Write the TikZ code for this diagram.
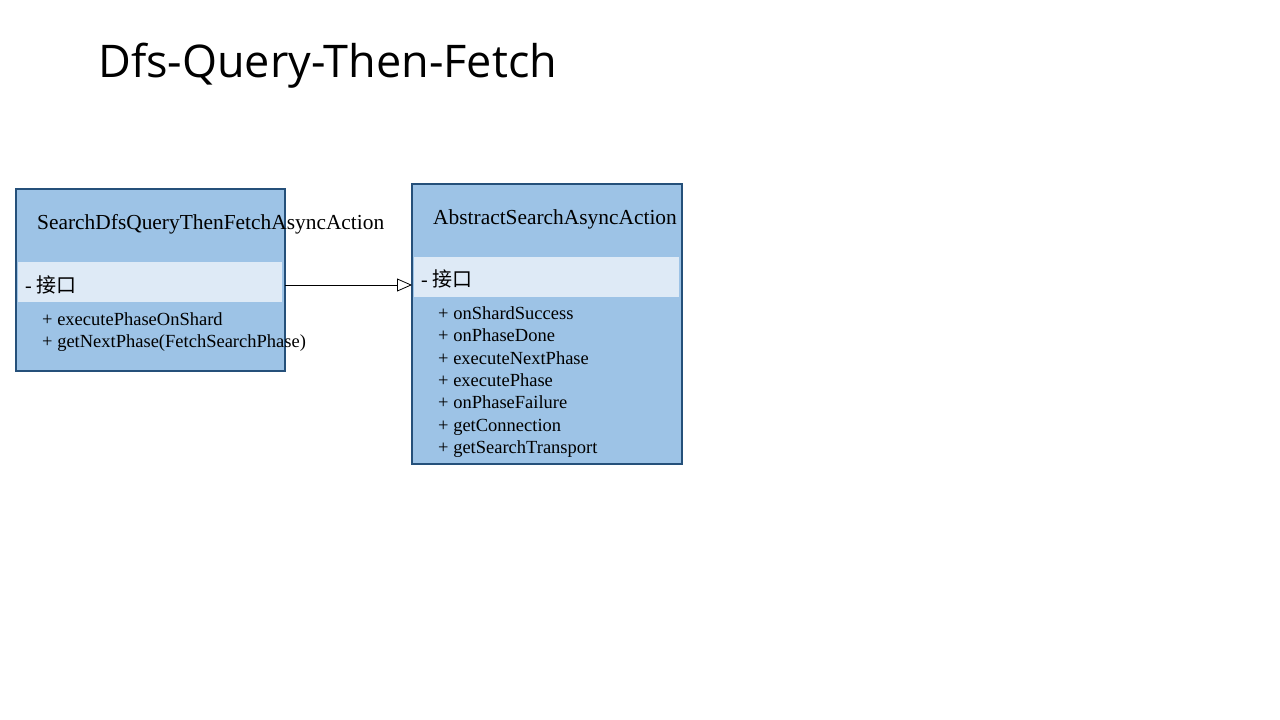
\documentclass[tikz,border=0pt]{standalone}
\usepackage{fontspec}
\setmainfont{Liberation Serif}
\newfontfamily\titlefont{Open Sans}
\newfontfamily\cjk{Noto Sans CJK SC}
\usetikzlibrary{arrows.meta}
\definecolor{boxfill}{HTML}{9DC3E6}
\definecolor{boxline}{HTML}{25507A}
\definecolor{bandfill}{HTML}{DEEAF6}
\tikzset{
  classbox/.style={draw=boxline, line width=1.5pt, fill=boxfill},
  band/.style={fill=bandfill, draw=none},
  cname/.style={anchor=west, font=\fontsize{21.4}{24}\selectfont, inner sep=0pt},
  attr/.style={anchor=west, font=\fontsize{20}{22}\selectfont, inner sep=0pt},
  meth/.style={anchor=west, font=\fontsize{18.5}{22.3}\selectfont, inner sep=0pt, align=left},
  inherit/.style={-{Triangle[open, length=15pt, width=13pt]}, line width=0.8pt}
}
\begin{document}
\begin{tikzpicture}[x=1pt, y=-1pt]
\useasboundingbox (0,0) rectangle (1280,720);
\node[anchor=west, inner sep=0pt, font=\titlefont\fontsize{45}{54}\selectfont] (title) at (98,66) {Dfs-Query-Then-Fetch};
% box 1
\draw[classbox] (16,189) rectangle (285,371);
\fill[band] (18,262) rectangle (282,302);
\coordinate (b1r) at (285,285);
\node[cname] (c1) at (37,224) {SearchDfsQueryThenFetchAsyncAction};
\node[attr] (a1) at (25,285) {- {\cjk 接口}};
\node[meth] (m1) at (42,332) {+ executePhaseOnShard\\+ getNextPhase(FetchSearchPhase)};
% box 2
\draw[classbox] (412,184) rectangle (682,464);
\fill[band] (414,257) rectangle (679,297);
\coordinate (b2l) at (412,285);
\node[cname] (c2) at (433,219) {AbstractSearchAsyncAction};
\node[attr] (a2) at (421,279) {- {\cjk 接口}};
\node[meth] (m2) at (438,382) {+ onShardSuccess\\+ onPhaseDone\\+ executeNextPhase\\+ executePhase\\+ onPhaseFailure\\+ getConnection\\+ getSearchTransport};
\draw[inherit] (b1r) -- (b2l);
\end{tikzpicture}
\end{document}
